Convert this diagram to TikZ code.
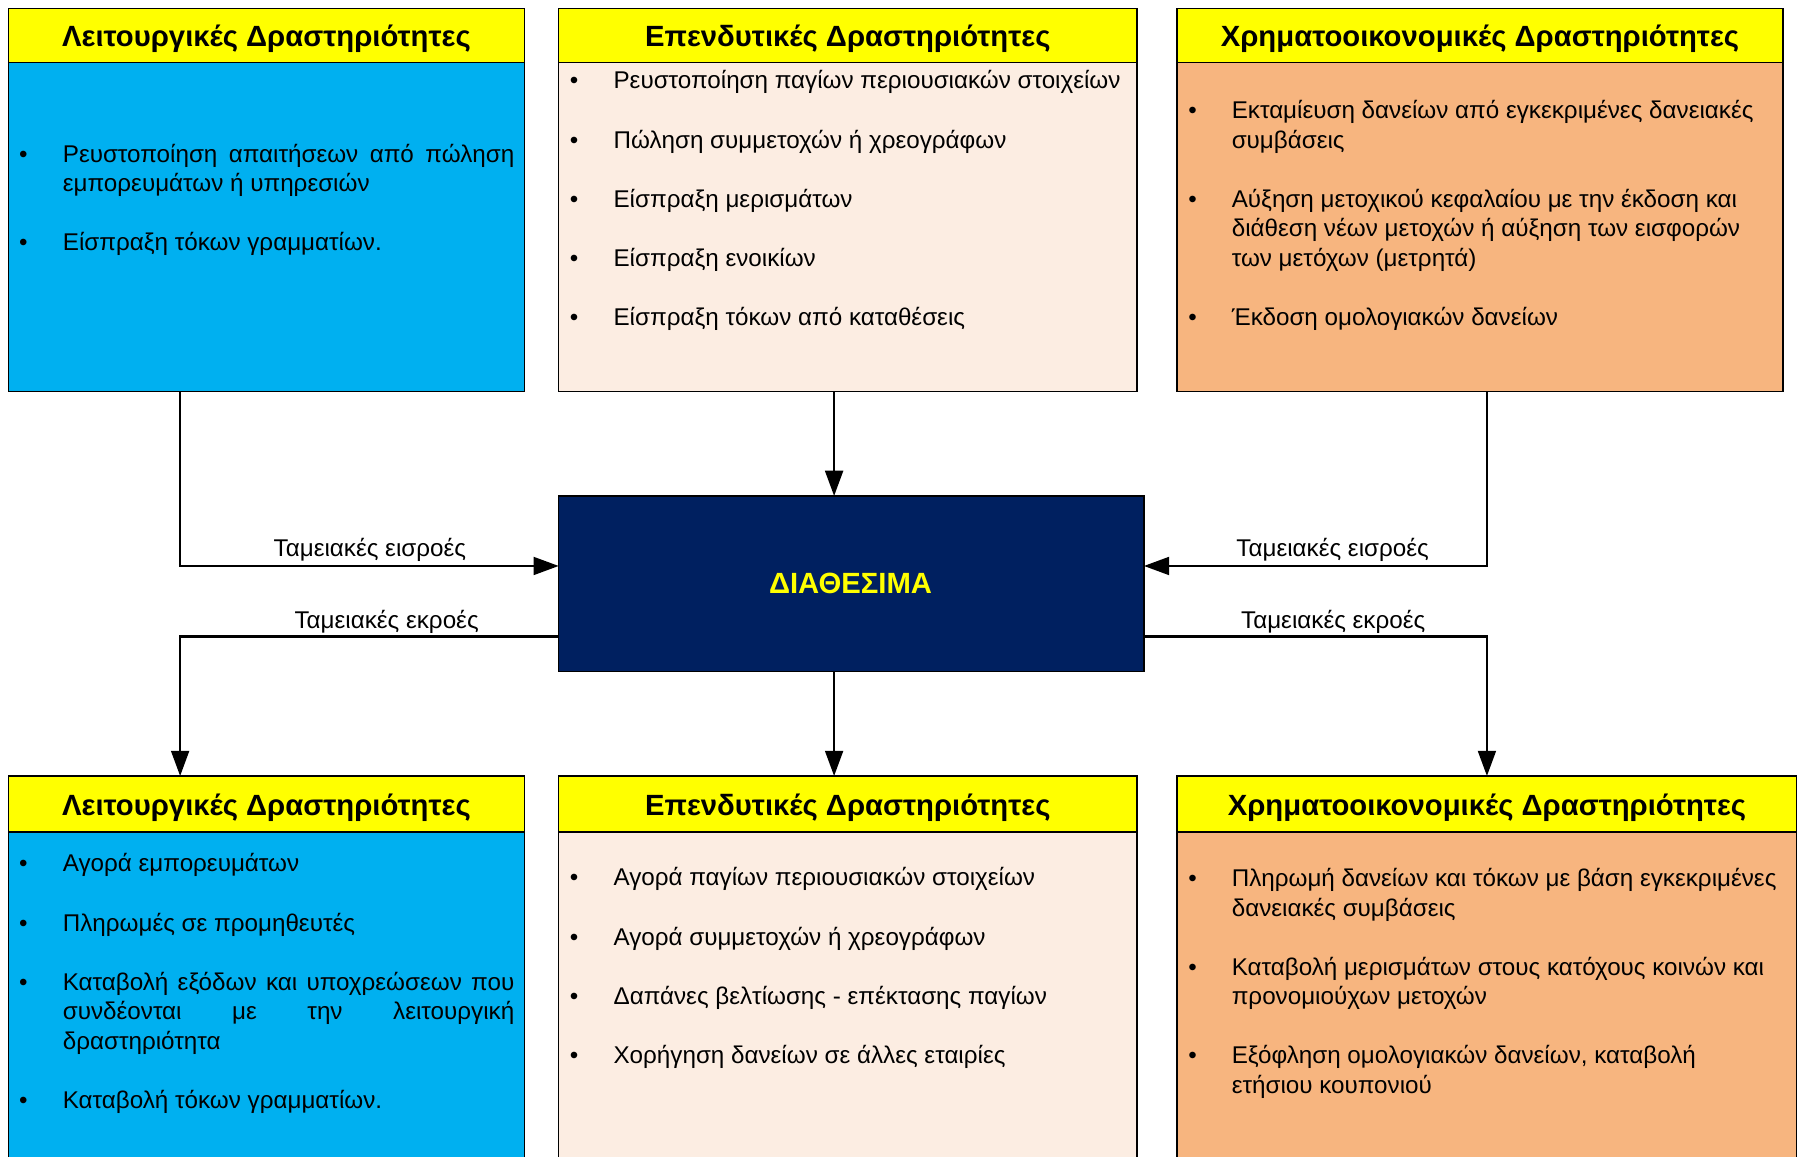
\documentclass[tikz,border=0pt]{standalone}
\usepackage{fontspec}
\setmainfont{Liberation Sans}
\usetikzlibrary{arrows.meta}
\definecolor{cblue}{HTML}{00B0F0}
\definecolor{cpeach}{HTML}{FCEDE2}
\definecolor{corange}{HTML}{F7B57F}
\definecolor{cnavy}{HTML}{002060}
\definecolor{cyel}{HTML}{FFFF00}
\newcommand\myitem[5]{%
  \node[bul] (#1b) at (#2,-#4) {•};
  \node[txt] (#1) at (#3,-#4) {#5};}
\newcommand\myline[4]{%
  \node[txt] (#1) at (#2,-#3) {#4};}
\newcommand\jst[1]{\makebox[393.4pt][s]{#1}}
\begin{document}
\begin{tikzpicture}[x=1pt,y=1pt,
  boxs/.style={draw=black,line width=1.3pt,anchor=north west,inner sep=0pt,outer sep=0pt},
  hdr/.style={boxs,fill=cyel},
  ttl/.style={anchor=base,inner sep=0pt,font=\fontsize{25.5}{30}\selectfont\bfseries},
  txt/.style={anchor=base west,inner sep=0pt,font=\fontsize{21.1}{25.75}\selectfont},
  bul/.style={anchor=base,inner sep=0pt,font=\fontsize{21.1}{25.75}\selectfont},
  lbl/.style={anchor=base,inner sep=0pt,font=\fontsize{21.1}{25.75}\selectfont},
  conn/.style={line width=2.3pt,-{Triangle[length=22pt,width=15.5pt]}}]
\useasboundingbox (0,0) rectangle (1568,-1008);
\begin{scope}
\clip (0,0) rectangle (1568,-1008);
% top boxes
\node[boxs,fill=cblue,minimum width=449.7pt,minimum height=334.1pt] (tl) at (7.3,-7.3) {};
\node[hdr,minimum width=449.7pt,minimum height=47.3pt] (tlh) at (7.3,-7.3) {};
\node[boxs,fill=cpeach,minimum width=503.8pt,minimum height=334.1pt] (tm) at (487,-7.3) {};
\node[hdr,minimum width=503.8pt,minimum height=47.3pt] (tmh) at (487,-7.3) {};
\node[boxs,fill=corange,minimum width=528.2pt,minimum height=334.1pt] (tr) at (1025.8,-7.3) {};
\node[hdr,minimum width=528.2pt,minimum height=47.3pt] (trh) at (1025.8,-7.3) {};
% bottom boxes
\node[boxs,fill=cblue,minimum width=449.7pt,minimum height=360pt] (bl) at (7.3,-676.4) {};
\node[hdr,minimum width=449.7pt,minimum height=48.6pt] (blh) at (7.3,-676.4) {};
\node[boxs,fill=cpeach,minimum width=503.8pt,minimum height=360pt] (bm) at (487,-676.4) {};
\node[hdr,minimum width=503.8pt,minimum height=48.6pt] (bmh) at (487,-676.4) {};
\node[boxs,fill=corange,minimum width=540pt,minimum height=360pt] (br) at (1026,-676.4) {};
\node[hdr,minimum width=540pt,minimum height=48.6pt] (brh) at (1026,-676.4) {};
% centre
\node[boxs,fill=cnavy,minimum width=510pt,minimum height=153pt] (dia) at (487,-432.3) {};
\node[anchor=base,inner sep=0pt,text=cyel,font=\fontsize{25.5}{30}\selectfont\bfseries] (diat) at (741.3,-517) {ΔΙΑΘΕΣΙΜΑ};
% titles
\node[ttl] (t1) at (232.2,-40.7) {Λειτουργικές Δραστηριότητες};
\node[ttl] (t2) at (738.9,-40.7) {Επενδυτικές Δραστηριότητες};
\node[ttl] (t3) at (1289.9,-40.7) {Χρηματοοικονομικές Δραστηριότητες};
\node[ttl] (t4) at (232.2,-710.5) {Λειτουργικές Δραστηριότητες};
\node[ttl] (t5) at (738.9,-710.5) {Επενδυτικές Δραστηριότητες};
\node[ttl] (t6) at (1296,-710.5) {Χρηματοοικονομικές Δραστηριότητες};
% top-left text
\myitem{a1}{20.3}{54.6}{141.5}{\jst{Ρευστοποίηση απαιτήσεων από πώληση}}
\myline{a1x}{54.6}{167.2}{εμπορευμάτων ή υπηρεσιών}
\myitem{a2}{20.3}{54.6}{218.7}{Είσπραξη τόκων γραμματίων.}
% top-middle text
\myitem{b1}{500.3}{534.6}{77.5}{Ρευστοποίηση παγίων περιουσιακών στοιχείων}
\myitem{b2}{500.3}{534.6}{129}{Πώληση συμμετοχών ή χρεογράφων}
\myitem{b3}{500.3}{534.6}{180.5}{Είσπραξη μερισμάτων}
\myitem{b4}{500.3}{534.6}{232}{Είσπραξη ενοικίων}
\myitem{b5}{500.3}{534.6}{283.7}{Είσπραξη τόκων από καταθέσεις}
% top-right text
\myitem{c1}{1039.5}{1073.4}{103.5}{Εκταμίευση δανείων από εγκεκριμένες δανειακές}
\myline{c1x}{1073.4}{129.2}{συμβάσεις}
\myitem{c2}{1039.5}{1073.4}{180.6}{Αύξηση μετοχικού κεφαλαίου με την έκδοση και}
\myline{c2x}{1073.4}{206.4}{διάθεση νέων μετοχών ή αύξηση των εισφορών}
\myline{c2y}{1073.4}{232}{των μετόχων (μετρητά)}
\myitem{c3}{1039.5}{1073.4}{283.5}{Έκδοση ομολογιακών δανείων}
% bottom-left text
\myitem{d1}{20.3}{54.6}{760}{Αγορά εμπορευμάτων}
\myitem{d2}{20.3}{54.6}{811.5}{Πληρωμές σε προμηθευτές}
\myitem{d3}{20.3}{54.6}{863}{\jst{Καταβολή εξόδων και υποχρεώσεων που}}
\myline{d3x}{54.6}{888.7}{\jst{συνδέονται με την λειτουργική}}
\myline{d3y}{54.6}{914.4}{δραστηριότητα}
\myitem{d4}{20.3}{54.6}{966}{Καταβολή τόκων γραμματίων.}
% bottom-middle text
\myitem{e1}{500.3}{534.6}{772}{Αγορά παγίων περιουσιακών στοιχείων}
\myitem{e2}{500.3}{534.6}{823.7}{Αγορά συμμετοχών ή χρεογράφων}
\myitem{e3}{500.3}{534.6}{875.4}{Δαπάνες βελτίωσης - επέκτασης παγίων}
\myitem{e4}{500.3}{534.6}{927}{Χορήγηση δανείων σε άλλες εταιρίες}
% bottom-right text
\myitem{f1}{1039.5}{1073.4}{772.8}{Πληρωμή δανείων και τόκων με βάση εγκεκριμένες}
\myline{f1x}{1073.4}{798.5}{δανειακές συμβάσεις}
\myitem{f2}{1039.5}{1073.4}{850}{Καταβολή μερισμάτων στους κατόχους κοινών και}
\myline{f2x}{1073.4}{875.7}{προνομιούχων μετοχών}
\myitem{f3}{1039.5}{1073.4}{927.2}{Εξόφληση ομολογιακών δανείων, καταβολή}
\myline{f3x}{1073.4}{953}{ετήσιου κουπονιού}
% connectors
\coordinate (k1) at (157,-493.3);
\coordinate (k2) at (1296,-493.3);
\coordinate (k3) at (157,-555);
\coordinate (k4) at (1296,-555);
\coordinate (k5) at (727,0);
\draw[conn] (tl.south -| k1) |- (dia.west |- k1);
\draw[conn] (tr.south -| k2) |- (dia.east |- k2);
\draw[conn] (tm.south -| k5) -- (dia.north -| k5);
\draw[conn] (dia.west |- k3) -| (blh.north -| k3);
\draw[conn] (dia.east |- k4) -| (brh.north -| k4);
\draw[conn] (dia.south -| k5) -- (bmh.north -| k5);
% labels
\node[lbl] (l1) at (322.4,-485.2) {Ταμειακές εισροές};
\node[lbl] (l2) at (1161.5,-485.2) {Ταμειακές εισροές};
\node[lbl] (l3) at (337,-547.7) {Ταμειακές εκροές};
\node[lbl] (l4) at (1162,-547.7) {Ταμειακές εκροές};
\end{scope}
\end{tikzpicture}
\end{document}
